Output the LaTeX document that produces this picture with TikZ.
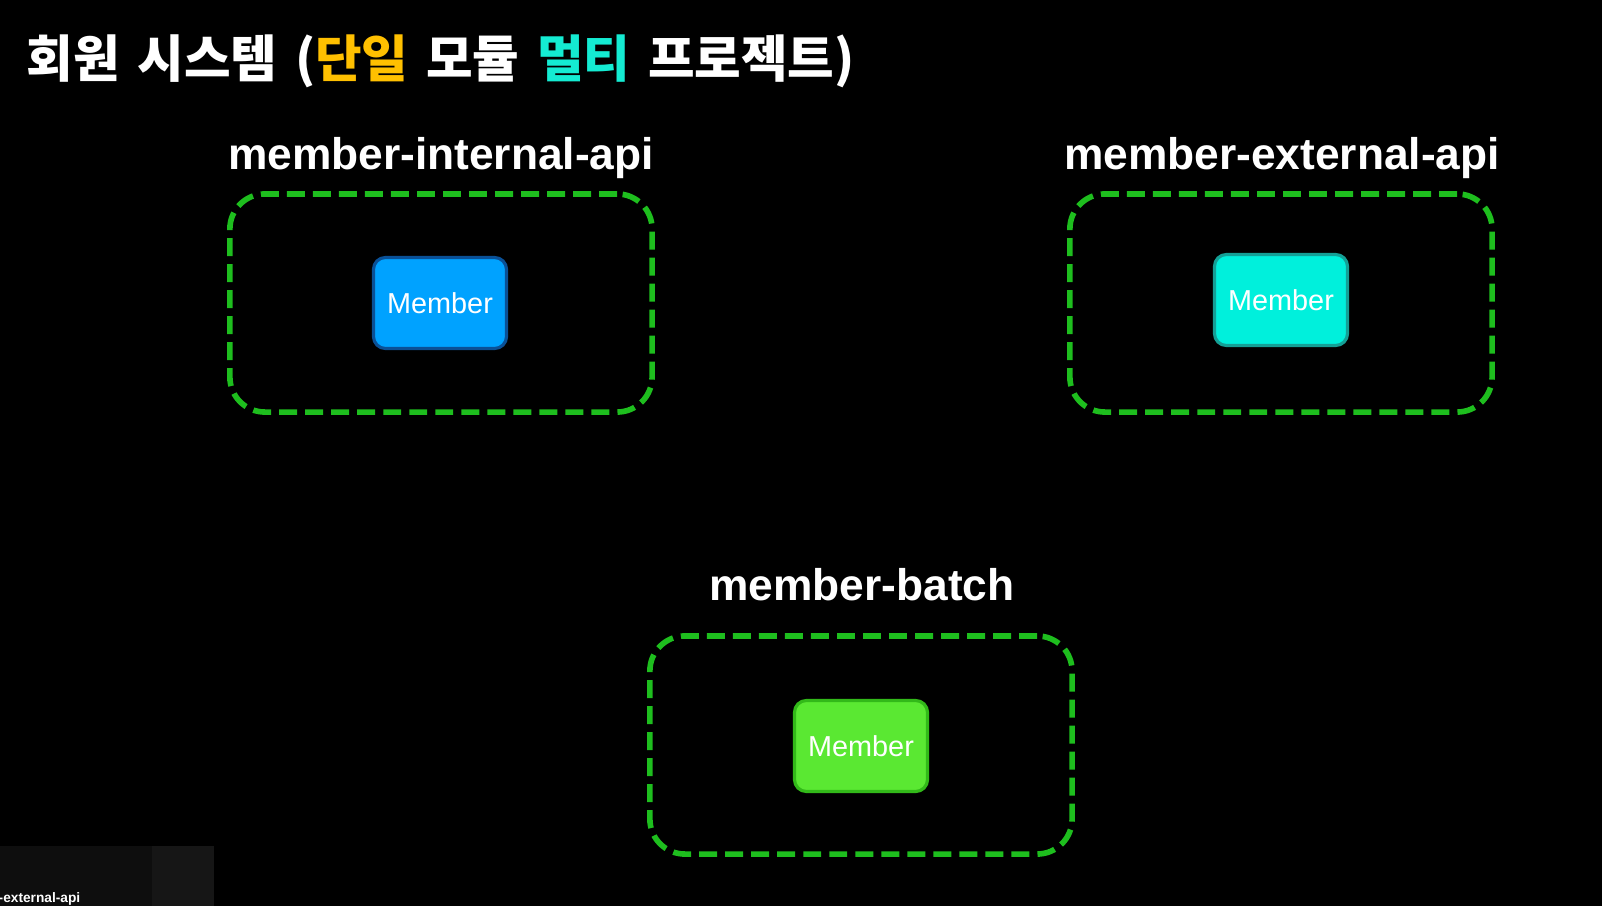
\documentclass[tikz,border=0pt]{standalone}
\usepackage{fontspec}
\setmainfont{Liberation Sans}
\newfontfamily\kr{Noto Sans CJK KR}
\definecolor{dashgreen}{RGB}{30,190,30}
\definecolor{titleyellow}{RGB}{255,192,0}
\definecolor{titlecyan}{RGB}{20,235,210}
\definecolor{blueFill}{RGB}{0,162,255}
\definecolor{blueEdge}{RGB}{10,80,150}
\definecolor{cyanFill}{RGB}{0,240,220}
\definecolor{cyanEdge}{RGB}{20,160,150}
\definecolor{limeFill}{RGB}{90,232,50}
\definecolor{limeEdge}{RGB}{50,185,25}
\definecolor{overlayA}{RGB}{14,14,14}
\definecolor{overlayB}{RGB}{22,22,22}
\newcommand{\wgap}{\hspace{0.35em}}
\tikzset{
  modulebox/.style={draw=dashgreen, line width=1.6pt, dash pattern=on 5.1pt off 2.3pt,
    rounded corners=0.35cm, minimum width=4.22cm, minimum height=2.18cm, inner sep=0pt},
  memberbox/.style={line width=0.9pt, rounded corners=0.12cm, minimum width=1.33cm,
    minimum height=0.91cm, inner sep=0pt, text=white, font=\fontsize{8.2pt}{9pt}\selectfont},
  modlabel/.style={text=white, font=\fontsize{12.6pt}{14pt}\selectfont\bfseries, inner sep=0pt},
}
\begin{document}
\begin{tikzpicture}[x=0.01cm,y=-0.01cm]
\fill[black] (0,0) rectangle (1602,906);
\useasboundingbox (0,0) rectangle (1602,906);

% title
\node[anchor=west, inner sep=0pt, text=white, font=\kr\fontsize{14.4pt}{16pt}\selectfont\bfseries] (title) at (26,61)
  {회원\wgap 시스템\wgap (\textcolor{titleyellow}{단일}\wgap 모듈\wgap \textcolor{titlecyan}{멀티}\wgap 프로젝트)};

% module boxes
\node[modulebox] (intbox) at (441,303) {};
\node[modulebox] (extbox) at (1281,303) {};
\node[modulebox] (batbox) at (861,745) {};

% labels
\node[modlabel] (intlabel) at (441,158) {member-internal-api};
\node[modlabel] (extlabel) at (1282,158) {member-external-api};
\node[modlabel] (batlabel) at (862,585) {member-batch};

% member nodes
\node[memberbox, fill=blueFill, draw=blueEdge] (intmember) at (440,303) {Member};
\node[memberbox, fill=cyanFill, draw=cyanEdge] (extmember) at (1281,300) {Member};
\node[memberbox, fill=limeFill, draw=limeEdge] (batmember) at (861,746) {Member};

% bottom-left overlay
\begin{scope}
\clip (0,846) rectangle (214,906);
\fill[overlayA] (0,846) rectangle (152,906);
\fill[overlayB] (152,846) rectangle (214,906);
\node[anchor=base west, inner sep=0pt, text=white, font=\fontsize{3.9pt}{4pt}\selectfont\bfseries] (overlaytext) at (-2,902) {-external-api};
\end{scope}
\end{tikzpicture}
\end{document}
